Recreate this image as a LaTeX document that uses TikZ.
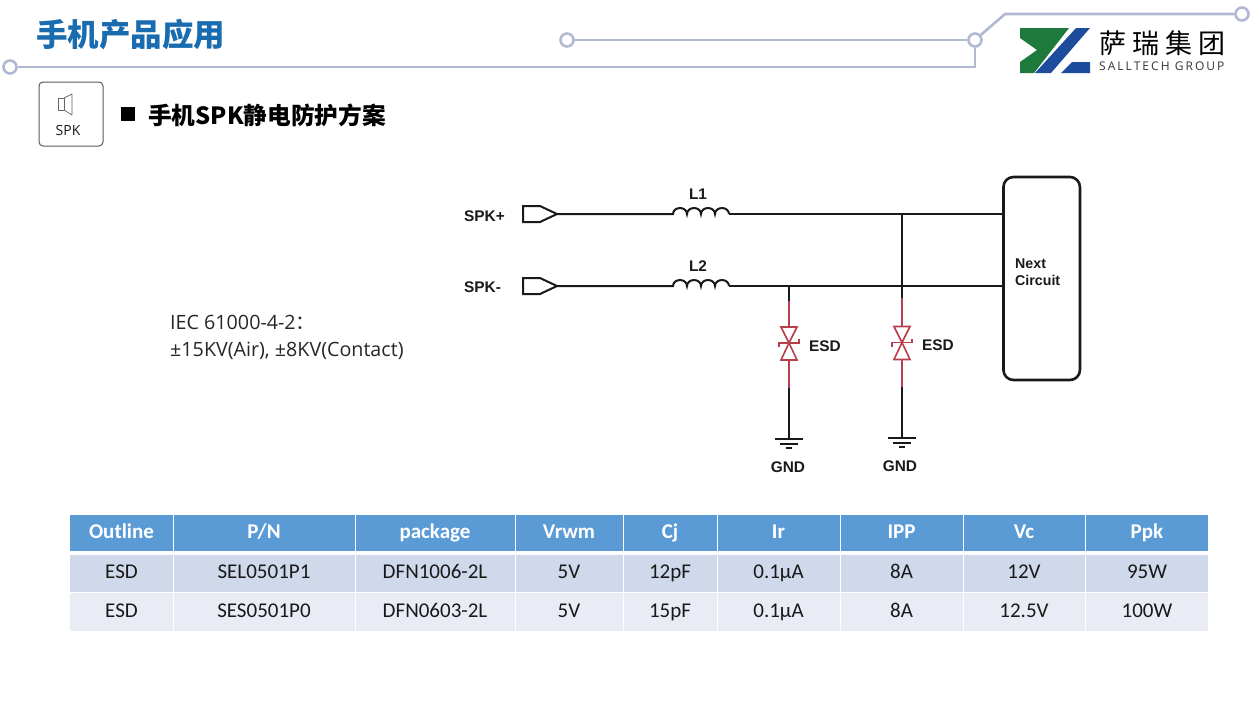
\documentclass[tikz,border=0pt]{standalone}
\usepackage{fontspec}
\setmainfont{Liberation Sans}
\newfontfamily\cjk{Noto Sans CJK SC}
\newfontfamily\cjklogo[LetterSpace=22]{Noto Sans CJK SC}
\newfontfamily\latlogo[LetterSpace=17]{Open Sans}
\newfontfamily\cali{Carlito}
\newfontfamily\opens{Open Sans}
\definecolor{deco}{HTML}{B0B8D4}
\definecolor{titleblue}{HTML}{1A6CB0}
\definecolor{hdr}{HTML}{5B9BD5}
\definecolor{rowa}{HTML}{D0D9EC}
\definecolor{rowb}{HTML}{E9ECF5}
\definecolor{esdred}{HTML}{B8404C}
\definecolor{lgreen}{HTML}{1D7A3C}
\definecolor{lblue}{HTML}{1E4C9C}
\tikzset{
  wire/.style={line width=2pt,black!90},
  redwire/.style={line width=2pt,esdred},
  diodeline/.style={line width=1.6pt,esdred,line join=miter},
  decoline/.style={line width=2.6pt,deco},
  decodot/.style={circle,draw=deco,line width=2.6pt,fill=white,minimum size=13pt,inner sep=0pt},
  lab/.style={font=\fontsize{15.4}{18}\selectfont\bfseries,text=black!90,inner sep=0pt},
  hcell/.style={font=\cali\bfseries\fontsize{21}{24}\selectfont,text=white,anchor=base,inner sep=0pt},
  bcell/.style={font=\cali\fontsize{21}{24}\selectfont,text=black!90,anchor=base,inner sep=0pt},
}
\begin{document}
\begin{tikzpicture}[x=1pt,y=-1pt]
\useasboundingbox (0,0) rectangle (1256,705);
% decoration
\node[decodot] (da) at (10,67) {};
\node[decodot] (db) at (567,40) {};
\node[decodot] (dc) at (975,40) {};
\node[decodot] (dd) at (1242,14) {};
\coordinate (dk1) at (975,67);
\coordinate (dk2) at (1005,14);
\draw[decoline,line join=miter] (da) -- (dk1) -- (dc);
\draw[decoline] (db) -- (dc);
\draw[decoline] (dc) -- (dk2) -- (dd);
% title
\node[anchor=west,inner sep=0pt,text=titleblue,font=\cjk\bfseries\fontsize{31.5}{36}\selectfont] (title) at (36,35) {手机产品应用};
% logo
\fill[lgreen] (1020,28) -- (1069,28) -- (1034,73) -- (1020,73) -- (1020,62) -- (1037,50) -- (1020,38) -- cycle;
\fill[lblue] (1076,28) -- (1090,28) -- (1051,73) -- (1035,73) -- cycle;
\fill[lblue] (1072,62) -- (1090,62) -- (1090,73) -- (1061,73) -- cycle;
\node[anchor=west,inner sep=0pt,text=black,font=\cjklogo\fontsize{27}{30}\selectfont] (lga) at (1099,43) {萨瑞集团};
\node[anchor=west,inner sep=0pt,text=black!80,font=\latlogo\fontsize{12}{14}\selectfont] (lgb) at (1099,66) {SALLTECH GROUP};
% SPK icon
\draw[black!65,line width=1pt,rounded corners=4pt] (39,82) rectangle (103,146);
\draw[black!60,line width=0.7pt,line join=round] (58,98) rectangle (64,110);
\draw[black!60,line width=0.7pt,line join=round] (64,98) -- (72,94) -- (72,115) -- (64,110);
\node[inner sep=0pt,text=black!90,font=\opens\fontsize{14}{16}\selectfont] (iconlab) at (68,130) {SPK};
\fill[black] (121,107) rectangle (135,121);
\node[anchor=west,inner sep=0pt,text=black,font=\cjk\bfseries\fontsize{23.7}{28}\selectfont] (sub) at (148,115) {手机SPK静电防护方案};
% IEC
\node[anchor=base west,inner sep=0pt,text=black!85,font=\opens\fontsize{19.7}{22}\selectfont] (iec1) at (170,329) {IEC 61000-4-2{\cjk ：}};
\node[anchor=base west,inner sep=0pt,text=black!85,font=\opens\fontsize{19.7}{22}\selectfont] (iec2) at (170,356) {±15KV(Air), ±8KV(Contact)};
% box
\node[draw=black!90,line width=2.6pt,rounded corners=10pt,minimum width=76.5pt,minimum height=203pt,inner sep=0pt] (next) at (1041.7,278.5) {};
\node[lab,anchor=base west,font=\fontsize{14.2}{17}\selectfont\bfseries] (nx1) at (1015,268) {Next};
\node[lab,anchor=base west,font=\fontsize{14.2}{17}\selectfont\bfseries] (nx2) at (1015,285) {Circuit};
% terminals
\coordinate (tpa) at (557,214);
\coordinate (tma) at (557,286);
\draw[wire,line join=miter] (523,206) -- (540,206) -- (tpa) -- (540,222) -- (523,222) -- cycle;
\draw[wire,line join=miter] (523,278) -- (540,278) -- (tma) -- (540,294) -- (523,294) -- cycle;
\node[lab,anchor=base west] (lsp) at (464,221) {SPK+};
\node[lab,anchor=base west] (lsm) at (464,292) {SPK-};
\node[lab] (ll1) at (698,194) {L1};
\node[lab] (ll2) at (698,266) {L2};
% inductors
\coordinate (l1a) at (673,214);
\coordinate (l1b) at (729,214);
\coordinate (l2a) at (673,286);
\coordinate (l2b) at (729,286);
\draw[wire] (tpa) -- (l1a) arc[start angle=180,end angle=0,x radius=7pt,y radius=6pt] arc[start angle=180,end angle=0,x radius=7pt,y radius=6pt] arc[start angle=180,end angle=0,x radius=7pt,y radius=6pt] arc[start angle=180,end angle=0,x radius=7pt,y radius=6pt] -- (l1b);
\draw[wire] (tma) -- (l2a) arc[start angle=180,end angle=0,x radius=7pt,y radius=6pt] arc[start angle=180,end angle=0,x radius=7pt,y radius=6pt] arc[start angle=180,end angle=0,x radius=7pt,y radius=6pt] arc[start angle=180,end angle=0,x radius=7pt,y radius=6pt] -- (l2b);
\draw[wire] (l1b) -- (next.west |- l1b);
\draw[wire] (l2b) -- (next.west |- l2b);
% ESD branches
\foreach \nm/\x/\ytop/\yred/\yredb/\yc/\ygnd/\ly/\gx/\gy/\lx in {a/789/286/301/388/343/439/346/788/467/825, b/902/214/298/387/342.5/438/345/900/466/938}{
  \coordinate (j\nm) at (\x,\ytop);
  \coordinate (r\nm) at (\x,\yred);
  \coordinate (s\nm) at (\x,\yredb);
  \coordinate (g\nm) at (\x,\ygnd);
  \draw[wire] (j\nm) -- (r\nm);
  \draw[redwire] (r\nm) -- (\x,\yc-16);
  \draw[redwire] (\x,\yc+17) -- (s\nm);
  \draw[wire] (s\nm) -- (g\nm);
  \draw[diodeline] (\x-8,\yc-16) -- (\x+8,\yc-16) -- (\x,\yc) -- cycle;
  \draw[diodeline] (\x-8,\yc+17) -- (\x+8,\yc+17) -- (\x,\yc) -- cycle;
  \draw[diodeline] (\x-10,\yc+4) -- (\x-10,\yc) -- (\x+10,\yc) -- (\x+10,\yc-4);
  \draw[wire] (\x-14,\ygnd) -- (\x+14,\ygnd);
  \draw[wire] (\x-9,\ygnd+4.5) -- (\x+9,\ygnd+4.5);
  \draw[wire] (\x-3,\ygnd+9) -- (\x+3,\ygnd+9);
  \node[lab] (esd\nm) at (\lx,\ly) {ESD};
  \node[lab] (gnd\nm) at (\gx,\gy) {GND};
}
% table backgrounds
\fill[hdr] (70,515) rectangle (1208,551);
\fill[rowa] (70,555) rectangle (1208,592);
\fill[rowb] (70,593) rectangle (1208,631);
\foreach \x in {173,355,515,623,717,840,963,1085}{
  \draw[white,line width=1pt] (\x,515) -- (\x,631);
}
\foreach \c/\x/\h/\a/\b in {
 1/121.5/Outline/ESD/ESD,
 2/264/P\slash N/SEL0501P1/SES0501P0,
 3/435/package/DFN1006-2L/DFN0603-2L,
 4/569/Vrwm/5V/5V,
 5/670/Cj/12pF/15pF,
 6/778.5/Ir/0.1µA/0.1µA,
 7/901.5/IPP/8A/8A,
 8/1024/Vc/12V/12.5V,
 9/1147/Ppk/95W/100W}{
  \node[hcell] (h\c) at (\x,538) {\h};
  \node[bcell] (a\c) at (\x,578) {\a};
  \node[bcell] (b\c) at (\x,617) {\b};
}
\end{tikzpicture}
\end{document}
